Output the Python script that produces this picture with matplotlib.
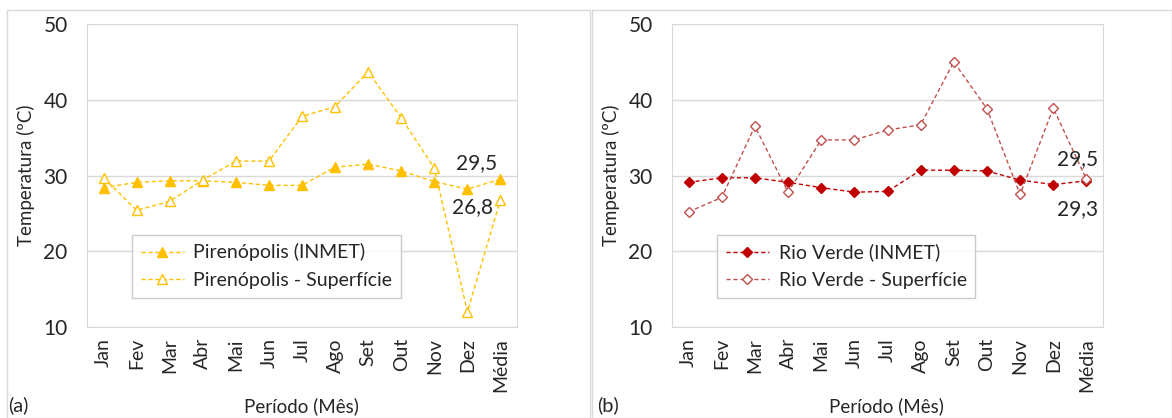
import numpy as np
import matplotlib
matplotlib.use("Agg")
import matplotlib.pyplot as plt
from matplotlib.patches import Rectangle

plt.rcParams['font.family'] = ['Lato', 'DejaVu Sans']

meses = ["Jan", "Fev", "Mar", "Abr", "Mai", "Jun", "Jul", "Ago", "Set",
         "Out", "Nov", "Dez", "Média"]

piren_inmet = [28.4, 29.1, 29.3, 29.3, 29.1, 28.7, 28.7, 31.1, 31.5, 30.6, 29.2, 28.2, 29.5]
piren_sup = [29.7, 25.4, 26.6, 29.4, 31.9, 31.9, 37.8, 39.1, 43.7, 37.6, 31.0, 12.0, 26.8]

rio_inmet = [29.1, 29.7, 29.7, 29.1, 28.4, 27.8, 27.9, 30.7, 30.7, 30.6, 29.4, 28.8, 29.3]
rio_sup = [25.2, 27.1, 36.5, 27.8, 34.7, 34.7, 36.0, 36.7, 45.0, 38.8, 27.5, 38.9, 29.5]

W, H = 1172, 418
fig = plt.figure(figsize=(W / 100, H / 100), dpi=100)

# outer frames of the two panels
for x0, x1 in [(7, 590), (592, 1172)]:
    fig.patches.append(Rectangle((x0 / W, 0), (x1 - x0) / W, 1 - 10 / H,
                                 transform=fig.transFigure, fill=False,
                                 edgecolor="#d9d9d9", linewidth=1))

dash = (0, (3, 2))
txt = "#262626"


def draw_panel(ax, inmet, sup, names, col_inmet, col_sup, mk, msize,
               label_pos, label_top, label_bot):
    x = np.arange(len(meses))
    ax.plot(x, inmet, linestyle=dash, color=col_inmet, linewidth=1,
            marker=mk, markersize=msize, markerfacecolor=col_inmet,
            markeredgecolor=col_inmet, label=names[0], zorder=3)
    ax.plot(x, sup, linestyle=dash, color=col_sup, linewidth=1,
            marker=mk, markersize=msize, markerfacecolor="white",
            markeredgecolor=col_sup, label=names[1], zorder=3)
    ax.set_xlim(-0.5, len(meses) - 0.5)
    ax.set_ylim(10, 50)
    ax.set_yticks([10, 20, 30, 40, 50])
    ax.set_xticks(x)
    ax.set_xticklabels(meses, rotation=90, fontsize=14)
    ax.tick_params(axis="y", labelsize=15, length=0, pad=14, colors=txt)
    ax.tick_params(axis="x", length=0, pad=8, colors=txt)
    ax.grid(axis="y", color="#d9d9d9", linewidth=1)
    ax.set_axisbelow(True)
    for s in ax.spines.values():
        s.set_color("#d9d9d9")
    ax.set_ylabel("Temperatura (ºC)", fontsize=13.5, color=txt, labelpad=6)
    leg = ax.legend(loc="lower left", bbox_to_anchor=(0.105, 0.096),
                    borderaxespad=0, fontsize=14, frameon=True, fancybox=False,
                    edgecolor="#bfbfbf", handlelength=2.2, handletextpad=0.5,
                    borderpad=0.45, labelspacing=0.55)
    leg.get_frame().set_linewidth(1)
    for t in leg.get_texts():
        t.set_color(txt)
    ax.text(label_pos[0], label_top[0], label_top[1], fontsize=15,
            ha="right", va="center", color=txt)
    ax.text(label_pos[1], label_bot[0], label_bot[1], fontsize=15,
            ha="right", va="center", color=txt)


ax1 = fig.add_axes([87 / W, 1 - 327 / H, 430 / W, 303 / H])
draw_panel(ax1, piren_inmet, piren_sup,
           ["Pirenópolis (INMET)", "Pirenópolis - Superfície"],
           "#FFC000", "#FFC000", "^", 7,
           (11.9, 11.78), (31.6, "29,5"), (25.8, "26,8"))

ax2 = fig.add_axes([672 / W, 1 - 327 / H, 431 / W, 303 / H])
draw_panel(ax2, rio_inmet, rio_sup,
           ["Rio Verde (INMET)", "Rio Verde - Superfície"],
           "#C00000", "#C0504D", "D", 5.5,
           (12.35, 12.35), (32.2, "29,5"), (25.6, "29,3"))

for xl, lab in [(8, "(a)"), (597, "(b)")]:
    fig.text(xl / W, 1 - 405 / H, lab, fontsize=14.5, va="center", color=txt)
fig.text(301 / W, 1 - 406 / H, "Período (Mês)", fontsize=13.5, ha="center",
         va="center", color=txt)
fig.text(886 / W, 1 - 406 / H, "Período (Mês)", fontsize=13.5, ha="center",
         va="center", color=txt)

fig.savefig("out.png", dpi=100)
